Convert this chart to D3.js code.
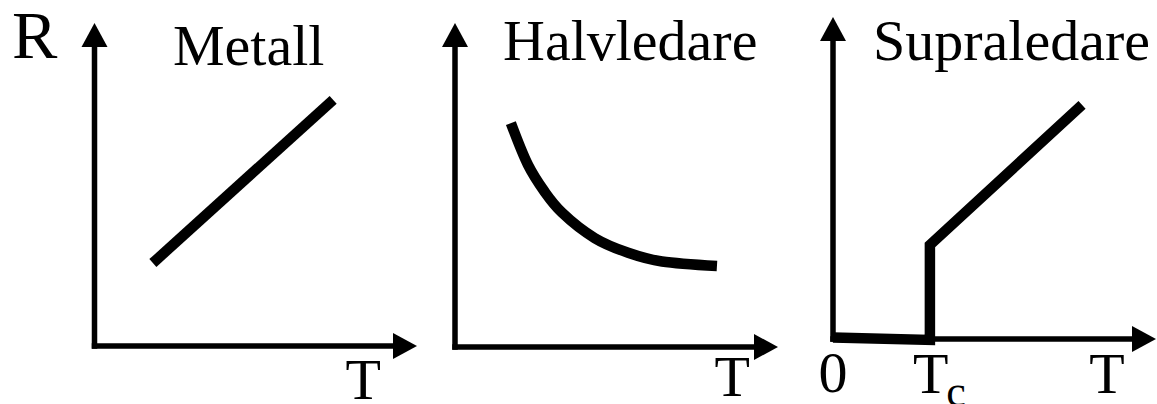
<!DOCTYPE html>
<html>
<head>
<meta charset="utf-8">
<script src="https://cdn.jsdelivr.net/npm/d3@7"></script>
<style>
  body { margin: 0; background: #fff; }
  svg { display: block; }
</style>
</head>
<body>
<svg></svg>
<script>
// data (T, R) in arbitrary units 0..10
const titles = ["Metall", "Halvledare", "Supraledare"];
const metall = [[1.81, 2.57], [7.40, 7.62]];
const halvledare = [[1.73, 6.91], [2.26, 5.62], [2.79, 4.77], [3.31, 4.15], [4.33, 3.36],
                    [5.36, 2.91], [6.41, 2.64], [8.11, 2.50]];
const supraledare = [[0, 0.05], [3.0, -0.03], [3.0, 2.92], [7.71, 7.27]];
const tickValues = [[8.33], [8.58], [0, 3.0, 8.48]];
const tickLabels = [["T"], ["T"], ["0", "Tc", "T"]];
const yLabel = "R";

const width = 1157;
const height = 404;
const font = "'Liberation Serif', Tinos, 'Times New Roman', 'DejaVu Serif', serif";
const svg = d3.select("svg").attr("width", width).attr("height", height);

// panel layout
const panels = [
  { ox: 94.5, oy: 346, xEnd: 417, yEnd: 23, data: metall, titleX: 173, titleY: 65, tickY: [399] },
  { ox: 455, oy: 347, xEnd: 778, yEnd: 23, data: halvledare, titleX: 503, titleY: 60, tickY: [396] },
  { ox: 833, oy: 339, xEnd: 1156, yEnd: 17, data: supraledare, titleX: 873, titleY: 60, tickY: [392, 393, 393] }
];

const axisW = 5.5;
const arrowLen = 24;
const arrowHalf = 13;

panels.forEach((p, i) => {
  const x = d3.scaleLinear().domain([0, 10]).range([p.ox, p.xEnd]);
  const y = d3.scaleLinear().domain([0, 10]).range([p.oy, p.yEnd]);
  const g = svg.append("g");

  // axes
  g.append("line")
    .attr("x1", x(0)).attr("y1", y(0) + axisW / 2)
    .attr("x2", x(0)).attr("y2", y(10) + arrowLen - 1)
    .attr("stroke", "#000").attr("stroke-width", axisW);
  g.append("line")
    .attr("x1", x(0) - axisW / 2).attr("y1", y(0))
    .attr("x2", x(10) - arrowLen + 1).attr("y2", y(0))
    .attr("stroke", "#000").attr("stroke-width", axisW);
  g.append("path")
    .attr("d", `M${x(0)},${y(10)}L${x(0) - arrowHalf},${y(10) + arrowLen}L${x(0) + arrowHalf},${y(10) + arrowLen}Z`)
    .attr("fill", "#000");
  g.append("path")
    .attr("d", `M${x(10)},${y(0)}L${x(10) - arrowLen},${y(0) - arrowHalf}L${x(10) - arrowLen},${y(0) + arrowHalf}Z`)
    .attr("fill", "#000");

  // curve
  const line = d3.line()
    .x(d => x(d[0])).y(d => y(d[1]))
    .curve(i === 1 ? d3.curveNatural : d3.curveLinear);
  g.append("path")
    .datum(p.data)
    .attr("d", line)
    .attr("fill", "none")
    .attr("stroke", "#000")
    .attr("stroke-width", 10.5)
    .attr("stroke-linecap", "butt")
    .attr("stroke-linejoin", "miter");

  // title
  g.append("text")
    .attr("x", p.titleX).attr("y", p.titleY)
    .attr("font-family", font)
    .attr("font-size", 58)
    .text(titles[i]);

  // tick labels
  tickValues[i].forEach((v, j) => {
    const lab = tickLabels[i][j];
    const ty = p.tickY[j] !== undefined ? p.tickY[j] : p.tickY[0];
    if (lab === "Tc") {
      const t = g.append("text")
        .attr("x", x(v) - 17).attr("y", ty)
        .attr("font-family", font)
        .attr("font-size", 58);
      t.append("tspan").text("T");
      t.append("tspan").attr("font-size", 44).attr("dy", 13).attr("dx", -2).text("c");
    } else {
      g.append("text")
        .attr("x", x(v)).attr("y", ty)
        .attr("text-anchor", "middle")
        .attr("font-family", font)
        .attr("font-size", 58)
        .text(lab);
    }
  });
});

// R label
svg.append("text")
  .attr("x", 12).attr("y", 58)
  .attr("font-family", font)
  .attr("font-size", 68)
  .text(yLabel);
</script>
</body>
</html>
